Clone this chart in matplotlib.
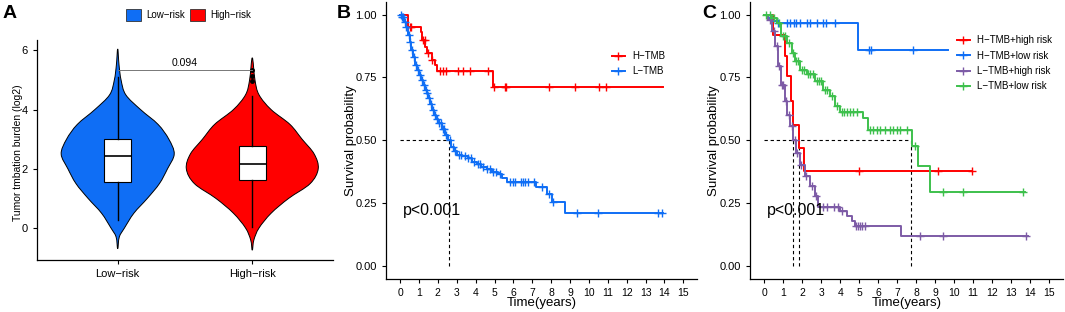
import numpy as np
import matplotlib
matplotlib.use("Agg")
import matplotlib.pyplot as plt
from matplotlib.path import Path
from matplotlib.patches import PathPatch, Patch
from matplotlib.lines import Line2D

plt.rcParams["font.family"] = ["Liberation Sans", "DejaVu Sans"]

RED = "#FF0000"
BLUE = "#0F6EF5"
PURPLE = "#7D5BA6"
GREEN = "#3DC04C"

# ---- panel A: violin profiles (level, half width)
groups = ["Low\u2212risk", "High\u2212risk"]
low_y = [-0.7, -0.3, 0.0, 0.5, 1.0, 1.5, 2.0, 2.5, 3.0, 3.5, 4.0, 4.5, 5.0, 5.5, 6.05]
low_w = [0, 0.012, 0.05, 0.12, 0.22, 0.31, 0.37, 0.42, 0.38, 0.30, 0.17, 0.06, 0.025, 0.01, 0]
high_y = [-0.75, -0.4, 0.0, 0.5, 1.0, 1.5, 2.0, 2.5, 3.0, 3.5, 4.0, 4.5, 5.0, 5.75]
high_w = [0, 0.012, 0.05, 0.14, 0.27, 0.43, 0.49, 0.46, 0.37, 0.28, 0.14, 0.05, 0.02, 0]
# box stats: q1, median, q3, whisker low, whisker high
low_box = [1.55, 2.43, 3.0, 0.27, 5.1]
high_box = [1.62, 2.15, 2.78, 0.05, 4.45]
high_fliers = [4.95, 5.15, 5.35]
p_value_a = "0.094"

# ---- panel B: KM curves (time of step, survival after step)
b_h_t = [0, 0.44, 1.09, 1.15, 1.32, 1.41, 1.68, 1.85, 1.98, 4.94, 13.9]
b_h_s = [1.0, 0.952, 0.93, 0.90, 0.873, 0.847, 0.82, 0.80, 0.775, 0.714, 0.714]
b_h_cens = [0.5, 0.6, 1.2, 1.3, 1.5, 1.7, 2.12, 2.29, 2.44, 3.09, 3.35, 3.71, 4.68,
            4.99, 5.56, 5.6, 7.9, 9.26, 10.55, 10.9]
b_l_t = [0, 0.1, 0.2, 0.3, 0.4, 0.5, 0.6, 0.7, 0.8, 0.9, 1.0, 1.1, 1.2, 1.3, 1.4,
         1.5, 1.6, 1.7, 1.8, 1.9, 2.0, 2.2, 2.4, 2.55, 2.7, 2.85, 3.0, 3.3, 3.6,
         3.8, 4.05, 4.3, 4.6, 4.85, 5.2, 5.4, 5.65, 7.2, 7.76, 8.03, 8.73, 13.94]
b_l_s = [1.0, 0.99, 0.97, 0.95, 0.92, 0.89, 0.86, 0.83, 0.80, 0.78, 0.76, 0.74,
         0.72, 0.70, 0.69, 0.67, 0.645, 0.62, 0.60, 0.585, 0.57, 0.545, 0.52, 0.50,
         0.475, 0.458, 0.444, 0.44, 0.43, 0.415, 0.407, 0.395, 0.385, 0.375, 0.368,
         0.352, 0.337, 0.315, 0.288, 0.255, 0.212, 0.212]
b_l_cens = [0.05, 0.12, 0.15, 0.25, 0.33, 0.45, 0.55, 0.65, 0.75, 0.85, 0.95, 1.05,
            1.15, 1.25, 1.35, 1.45, 1.55, 1.65, 1.75, 1.85, 1.95, 2.05, 2.15, 2.25,
            2.35, 2.45, 2.65, 2.8, 2.9, 3.1, 3.25, 3.45, 3.6, 3.75, 3.9, 4.1, 4.25,
            4.4, 4.6, 4.75, 4.9, 5.1, 5.3, 5.8, 6.0, 6.1, 6.4, 6.5, 6.6, 6.8, 7.1,
            7.5, 7.9, 8.1, 9.39, 10.46, 13.64, 13.85]
b_median = [2.59]

# ---- panel C
c_hh_t = [0, 0.44, 1.09, 1.2, 1.39, 1.5, 1.84, 2.09, 10.93]
c_hh_s = [1.0, 0.92, 0.834, 0.755, 0.656, 0.563, 0.47, 0.377, 0.377]
c_hh_cens = [5.0, 9.18, 10.93]
c_hl_t = [0, 0.2, 0.4, 0.65, 4.95, 9.69]
c_hl_s = [1.0, 0.985, 0.975, 0.967, 0.858, 0.858]
c_hl_cens = [0.74, 1.21, 1.35, 1.56, 1.7, 1.88, 2.27, 2.41, 2.76, 3.11, 3.28, 3.72,
             5.54, 5.6, 7.85]
c_lh_t = [0, 0.2, 0.39, 0.56, 0.74, 0.91, 1.09, 1.21, 1.35, 1.53, 1.7, 1.88, 2.14,
          2.41, 2.67, 2.84, 3.99, 4.34, 4.6, 4.78, 7.23, 13.9]
c_lh_s = [1.0, 0.98, 0.934, 0.874, 0.795, 0.722, 0.656, 0.603, 0.556, 0.50, 0.45,
          0.404, 0.358, 0.318, 0.278, 0.235, 0.218, 0.20, 0.179, 0.162, 0.119, 0.119]
c_lh_cens = [0.3, 0.5, 0.7, 0.8, 0.95, 1.0, 1.15, 1.3, 1.45, 1.6, 1.75, 1.95, 2.2,
             2.5, 2.75, 3.1, 3.3, 3.7, 3.9, 4.1, 4.85, 4.95, 5.05, 5.15, 5.3, 8.2,
             9.4, 13.79]
c_ll_t = [0, 0.39, 0.65, 0.91, 1.18, 1.44, 1.62, 1.88, 2.23, 2.67, 3.11, 3.46,
          3.72, 3.99, 5.21, 5.48, 7.76, 8.11, 8.72, 13.73]
c_ll_s = [1.0, 0.987, 0.967, 0.914, 0.887, 0.848, 0.815, 0.78, 0.762, 0.735, 0.70,
          0.675, 0.636, 0.612, 0.589, 0.541, 0.477, 0.397, 0.294, 0.294]
c_ll_cens = [0.1, 0.3, 0.5, 0.8, 1.0, 1.1, 1.3, 1.5, 1.7, 1.8, 2.0, 2.1, 2.3, 2.4,
             2.55, 2.8, 2.9, 3.0, 3.2, 3.3, 3.55, 3.85, 4.1, 4.2, 4.35, 4.5, 4.7,
             4.9, 5.57, 5.74, 5.92, 6.1, 6.36, 6.62, 6.8, 6.97, 7.15, 7.5, 7.95,
             9.4, 10.45, 13.61]
c_medians = [1.53, 1.84, 7.73]

b_series = [("H\u2212TMB", RED, b_h_t, b_h_s, b_h_cens),
            ("L\u2212TMB", BLUE, b_l_t, b_l_s, b_l_cens)]
c_series = [("H\u2212TMB+high risk", RED, c_hh_t, c_hh_s, c_hh_cens),
            ("H\u2212TMB+low risk", BLUE, c_hl_t, c_hl_s, c_hl_cens),
            ("L\u2212TMB+high risk", PURPLE, c_lh_t, c_lh_s, c_lh_cens),
            ("L\u2212TMB+low risk", GREEN, c_ll_t, c_ll_s, c_ll_cens)]


def smooth_outline(pts):
    """closed Catmull-Rom outline turned into bezier path"""
    pts = np.asarray(pts, dtype=float)
    n = len(pts)
    verts = [pts[0]]
    codes = [Path.MOVETO]
    for i in range(n):
        p0, p1, p2, p3 = pts[(i - 1) % n], pts[i], pts[(i + 1) % n], pts[(i + 2) % n]
        verts += [p1 + (p2 - p0) / 6, p2 - (p3 - p1) / 6, p2]
        codes += [Path.CURVE4] * 3
    return Path(verts, codes)


def violin(ax, pos, ys, ws, color):
    right = [(pos + w, y) for y, w in zip(ys, ws)]
    left = [(pos - w, y) for y, w in zip(ys[::-1], ws[::-1])][1:-1]
    ax.add_patch(PathPatch(smooth_outline(right + left), facecolor=color,
                           edgecolor="black", lw=0.7, zorder=1))


def style_axes(ax):
    for s in ("top", "right"):
        ax.spines[s].set_visible(False)
    for s in ("left", "bottom"):
        ax.spines[s].set_linewidth(0.9)
    ax.tick_params(length=3, width=0.8, labelsize=8, colors="black")


fig = plt.figure(figsize=(10.65, 3.12), dpi=100)

# ------------------ A
axA = fig.add_axes([0.0347, 0.1667, 0.278, 0.705])
violin(axA, 1, low_y, low_w, BLUE)
violin(axA, 2, high_y, high_w, RED)
stats = []
for lab, b, fl in [(groups[0], low_box, []), (groups[1], high_box, high_fliers)]:
    stats.append(dict(label=lab, q1=b[0], med=b[1], q3=b[2], whislo=b[3],
                      whishi=b[4], fliers=fl))
axA.bxp(stats, positions=[1, 2], widths=0.2, patch_artist=True, showcaps=False,
        boxprops=dict(facecolor="white", edgecolor="black", lw=0.8),
        medianprops=dict(color="black", lw=1.2),
        whiskerprops=dict(color="black", lw=1.0),
        flierprops=dict(marker="o", markersize=2.5, markerfacecolor="black",
                        markeredgecolor="black"))
axA.plot([1, 2], [5.34, 5.34], color="#777777", lw=0.7)
axA.text(1.5, 5.4, p_value_a, ha="center", va="bottom", fontsize=7.5)
axA.set_xlim(0.4, 2.6)
axA.set_ylim(-1.08, 6.35)
axA.set_yticks([0, 2, 4, 6])
axA.set_xticks([1, 2])
axA.set_xticklabels(groups)
style_axes(axA)
axA.set_ylabel("Tumor tmbation burden (log2)", fontsize=7.5)
axA.yaxis.set_label_coords(-0.047, 0.49)
fig.legend(handles=[Patch(facecolor=BLUE, edgecolor="#333333", lw=0.6),
                    Patch(facecolor=RED, edgecolor="#333333", lw=0.6)],
           labels=groups, loc="center", bbox_to_anchor=(0.177, 0.952), ncol=2,
           frameon=False, fontsize=7, handlelength=1.5, handleheight=1.5,
           handletextpad=0.5, columnspacing=0.6)


# ------------------ B and C
def km_panel(rect, series, medians, leg_anchor, ylab_x):
    ax = fig.add_axes(rect)
    handles = []
    for name, col, t, s, cens in series:
        ax.step(t, s, where="post", color=col, lw=1.4, zorder=3)
        t_arr = np.asarray(t)
        s_arr = np.asarray(s)
        idx = np.searchsorted(t_arr, cens, side="right") - 1
        ax.plot(cens, s_arr[idx], ls="none", marker="+", color=col, ms=6,
                mew=1.0, zorder=3)
        handles.append(Line2D([], [], color=col, lw=1.4, marker="+", ms=6, mew=1.0))
    ax.plot([0, max(medians)], [0.5, 0.5], ls=(0, (3, 2.5)), color="black",
            lw=0.8, zorder=2)
    for m in medians:
        ax.plot([m, m], [0, 0.5], ls=(0, (3, 2.5)), color="black", lw=0.8, zorder=2)
    ax.text(0.15, 0.205, "p<0.001", fontsize=11.5, ha="left", va="baseline",
            zorder=4)
    ax.set_xlim(-0.75, 15.75)
    ax.set_ylim(-0.05, 1.05)
    ax.set_xticks(range(16))
    ax.set_yticks([0, 0.25, 0.5, 0.75, 1.0])
    ax.set_yticklabels(["0.00", "0.25", "0.50", "0.75", "1.00"])
    style_axes(ax)
    ax.tick_params(axis="x", labelsize=7.5)
    ax.set_xlabel("Time(years)", fontsize=9.5)
    ax.xaxis.set_label_coords(0.5, -0.064)
    ax.set_ylabel("Survival probability", fontsize=9.5)
    ax.yaxis.set_label_coords(ylab_x, 0.5)
    ax.legend(handles, [x[0] for x in series], loc="upper left",
              bbox_to_anchor=leg_anchor, frameon=False, fontsize=7,
              handlelength=1.3, handletextpad=0.8, borderpad=0,
              borderaxespad=0, labelspacing=0.55)
    return ax


km_panel([0.3624, 0.1058, 0.2925, 0.888], b_series, b_median, (0.7255, 0.823), -0.093)
km_panel([0.7042, 0.1058, 0.2941, 0.888], c_series, c_medians, (0.661, 0.879), -0.096)

for x, letter in [(0.002, "A"), (0.316, "B"), (0.659, "C")]:
    fig.text(x, 0.985, letter, fontsize=14, fontweight="bold", va="top", ha="left")

fig.savefig("out.png", dpi=100, facecolor="white")
